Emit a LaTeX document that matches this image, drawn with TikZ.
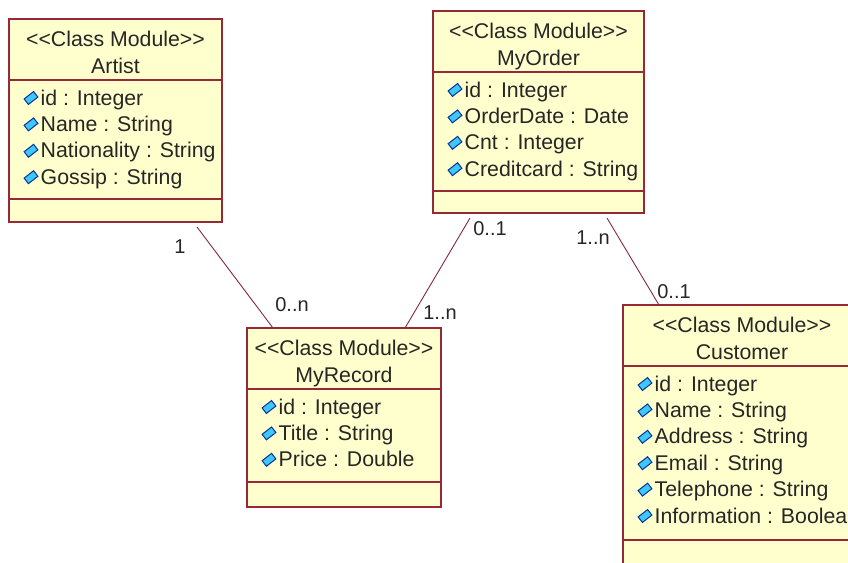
\documentclass[tikz,border=0pt]{standalone}
\usepackage{fontspec}
\setmainfont{Liberation Sans}
\definecolor{boxfill}{RGB}{255,255,206}
\definecolor{boxedge}{RGB}{150,40,55}
\definecolor{assoc}{RGB}{130,40,75}
\definecolor{iconfill}{RGB}{60,200,250}
\definecolor{iconedge}{RGB}{10,50,150}

% stereotype text; the kerns keep << and >> from turning into guillemets
\newcommand{\stereo}{<\kern0pt<Class Module>\kern0pt>}

% #1 name, #2 top-left corner, #3 width, #4 height, #5 offset of the
% attribute/operation divider, #6 class name, #7 attribute list
\newcommand{\umlclass}[7]{%
  \node[classframe, minimum width=#3, minimum height=#4] (#1) at #2 {};
  \draw[classline] ([yshift=-61pt]#1.north west) -- ([yshift=-61pt]#1.north east);
  \draw[classline] ([yshift=-#5]#1.north west) -- ([yshift=-#5]#1.north east);
  \node[umltext, anchor=base] (#1-st) at ([yshift=-27pt]#1.north) {\stereo};
  \node[umltext, anchor=base] (#1-nm) at ([yshift=-54pt]#1.north) {#6};
  \foreach \a [count=\i] in {#7} {
    \node[attricon] (#1-d\i) at ([xshift=22pt, yshift={-(79+26.4*(\i-1))*1pt}]#1.north west) {};
    \node[umltext, anchor=base west] (#1-a\i) at ([xshift=31.5pt, yshift={-(86+26.4*(\i-1))*1pt}]#1.north west) {\a};
  }%
}

\begin{document}
\begin{tikzpicture}[x=1pt, y=-1pt,
  classframe/.style={draw=boxedge, fill=boxfill, line width=1.3pt, anchor=north west,
                     inner sep=0pt, outer sep=0pt},
  classline/.style={draw=boxedge, line width=1.3pt},
  umltext/.style={font=\fontsize{21.3}{25}\selectfont, inner sep=0pt, text=black!85},
  attricon/.style={draw=iconedge, fill=iconfill, line width=1pt, rectangle,
                   minimum width=12pt, minimum height=7pt, inner sep=0pt, rotate=38},
  link/.style={draw=assoc, line width=0.9pt},
  mult/.style={font=\fontsize{20}{24}\selectfont, inner sep=0pt, text=black!85}]

\clip (0,0) rectangle (848,562);
\fill[white] (0,0) rectangle (848,562);

\umlclass{artist}{(9,19)}{213}{203}{180pt}{Artist}%
  {id : Integer, Name : String, Nationality : String, Gossip : String}
\umlclass{order}{(433,11)}{211}{202}{180pt}{MyOrder}%
  {id : Integer, OrderDate : Date, Cnt : Integer, Creditcard : String}
\umlclass{record}{(247,328)}{194}{179}{154pt}{MyRecord}%
  {id : Integer, Title : String, Price : Double}
\umlclass{customer}{(623,305)}{238}{280}{235pt}{Customer}%
  {id : Integer, Name : String, Address : String, Email : String, Telephone : String, Information : Boolean}

% association end points
\coordinate (artistEnd) at ([xshift=188pt, yshift=-5pt]artist.south west);
\coordinate (recordA)   at ([xshift=26pt]record.north west);
\coordinate (orderL)    at ([xshift=37pt, yshift=-5pt]order.south west);
\coordinate (recordB)   at ([xshift=158pt]record.north west);
\coordinate (orderR)    at ([xshift=174pt, yshift=-5pt]order.south west);
\coordinate (custEnd)   at ([xshift=36pt]customer.north west);

\draw[link] (artistEnd) -- (recordA);
\draw[link] (orderL) -- (recordB);
\draw[link] (orderR) -- (custEnd);

% multiplicities
\node[mult] (m1) at (180,247) {1};
\node[mult] (m2) at (292,305) {0..n};
\node[mult] (m3) at (490,229) {0..1};
\node[mult] (m4) at (440,313) {1..n};
\node[mult] (m5) at (593,238) {1..n};
\node[mult] (m6) at (674,292) {0..1};
\end{tikzpicture}
\end{document}
